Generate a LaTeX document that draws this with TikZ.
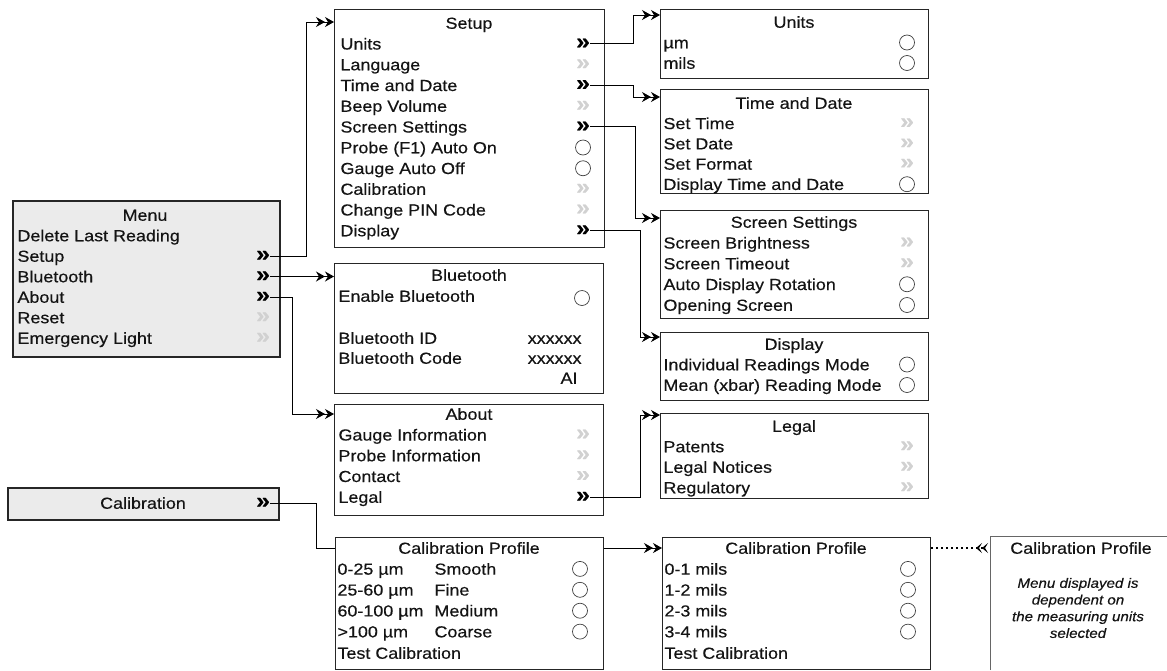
\documentclass[tikz,border=0pt]{standalone}
\usepackage{fontspec}
\setmainfont{Liberation Sans}[FakeStretch=1.12,FakeBold=0.4]
\usetikzlibrary{arrows.meta}

\begin{document}
\begin{tikzpicture}[x=1pt,y=-1pt,line width=1pt,
 font=\fontsize{16}{19}\selectfont,text=black!92,
 panel/.style={draw=black!85,line width=1.3pt,anchor=north west,inner sep=0pt},
 heavy/.style={panel,line width=2.2pt,fill=black!8},
 title/.style={inner sep=0pt,text height=11.5pt,text depth=0pt},
 row/.style={title,anchor=west},
 on/.style={inner sep=0pt,font=\fontsize{22}{24}\selectfont\bfseries,text=black,node contents={»}},
 off/.style={on,text=black!18},
 radio/.style={circle,draw=black!75,line width=.7pt,minimum size=15pt,inner sep=0pt,node contents={}},
 none/.style={inner sep=0pt,node contents={}},
 link/.style={-{Stealth[length=9pt,width=10pt,inset=3pt]Stealth[length=9pt,width=10pt,inset=3pt]}}]
 \useasboundingbox (0,0) rectangle (1167,670);
 % main menu
 \node[heavy,minimum width=267,minimum height=156] (menu) at (12,200) {};
 \node[title] (menu-t) at (145,215) {Menu};
 \foreach \t/\m [count=\i] in {Delete Last Reading/none,Setup/on,Bluetooth/on,
  About/on,Reset/off,Emergency Light/off}{
  \node[row] (menu-\i) at (17,{215+20.5*\i}) {\t};
  \node (menu-m\i) at (263,{215+20.5*\i}) [\m];
 }
 % setup
 \node[panel,minimum width=270,minimum height=238] (setup) at (334,9) {};
 \node[title] (setup-t) at (469,23) {Setup};
 \foreach \t/\m [count=\i] in {Units/on,Language/off,Time and Date/on,Beep Volume/off,
  Screen Settings/on,Probe (F1) Auto On/radio,Gauge Auto Off/radio,Calibration/off,
  Change PIN Code/off,Display/on}{
  \node[row] (setup-\i) at (340,{23+20.75*\i}) {\t};
  \node (setup-m\i) at (583,{23+20.75*\i}) [\m];
 }
 % units
 \node[panel,minimum width=268,minimum height=69] (units) at (660,9) {};
 \node[title] (units-t) at (794,22) {Units};
 \foreach \t [count=\i] in {µm,mils}{
  \node[row] (units-\i) at (663,{22+20.5*\i}) {\t};
  \node (units-m\i) at (907,{22+20.5*\i}) [radio];
 }
 % time and date
 \node[panel,minimum width=268,minimum height=104] (time) at (660,89) {};
 \node[title] (time-t) at (794,103) {Time and Date};
 \foreach \t/\m [count=\i] in {Set Time/off,Set Date/off,Set Format/off,
  Display Time and Date/radio}{
  \node[row] (time-\i) at (663,{103+20.3*\i}) {\t};
  \node (time-m\i) at (907,{103+20.3*\i}) [\m];
 }
 % screen settings
 \node[panel,minimum width=268,minimum height=108] (screen) at (660,210) {};
 \node[title] (screen-t) at (794,222) {Screen Settings};
 \foreach \t/\m [count=\i] in {Screen Brightness/off,Screen Timeout/off,
  Auto Display Rotation/radio,Opening Screen/radio}{
  \node[row] (screen-\i) at (663,{222+20.75*\i}) {\t};
  \node (screen-m\i) at (907,{222+20.75*\i}) [\m];
 }
 % display
 \node[panel,minimum width=268,minimum height=68] (display) at (660,332) {};
 \node[title] (display-t) at (794,344) {Display};
 \foreach \t [count=\i] in {Individual Readings Mode,Mean (xbar) Reading Mode}{
  \node[row] (display-\i) at (663,{344+20.5*\i}) {\t};
  \node (display-m\i) at (907,{344+20.5*\i}) [radio];
 }
 % legal
 \node[panel,minimum width=268,minimum height=85] (legal) at (660,413) {};
 \node[title] (legal-t) at (794,426) {Legal};
 \foreach \t [count=\i] in {Patents,Legal Notices,Regulatory}{
  \node[row] (legal-\i) at (663,{426+20.5*\i}) {\t};
  \node (legal-m\i) at (907,{426+20.5*\i}) [off];
 }
 % bluetooth
 \node[panel,minimum width=269,minimum height=130] (blue) at (334,263) {};
 \node[title] (blue-t) at (469,275) {Bluetooth};
 \node[row] (blue-1) at (338,296) {Enable Bluetooth};
 \node (blue-m1) at (582,298) [radio];
 \node[row] (blue-2) at (338,338) {Bluetooth ID};
 \node[row,anchor=east] (blue-v2) at (582,338) {xxxxxx};
 \node[row] (blue-3) at (338,358) {Bluetooth Code};
 \node[row,anchor=east] (blue-v3) at (582,358) {xxxxxx};
 \node[row,anchor=east] (blue-v4) at (578,378) {AI};
 % about
 \node[panel,minimum width=269,minimum height=111] (about) at (334,404) {};
 \node[title] (about-t) at (469,414) {About};
 \foreach \t/\m [count=\i] in {Gauge Information/off,Probe Information/off,
  Contact/off,Legal/on}{
  \node[row] (about-\i) at (338,{414+20.75*\i}) {\t};
  \node (about-m\i) at (583,{414+20.75*\i}) [\m];
 }
 % calibration
 \node[heavy,minimum width=271,minimum height=32] (calbar) at (7,487) {};
 \node[title] (calbar-t) at (143,503) {Calibration};
 \node (calbar-m) at (263,503) [on];
 \node[panel,minimum width=268,minimum height=132] (prof1) at (335,537) {};
 \node[title] (prof1-t) at (469,548) {Calibration Profile};
 \foreach \a/\b [count=\i] in {0-25 µm/Smooth,25-60 µm/Fine,60-100 µm/Medium,
  >100 µm/Coarse}{
  \node[row] (prof1-\i) at (337,{548+20.9*\i}) {\a};
  \node[row] (prof1-b\i) at (434,{548+20.9*\i}) {\b};
  \node (prof1-m\i) at (580,{548+20.9*\i}) [radio];
 }
 \node[row] (prof1-5) at (337,653) {Test Calibration};
 \node[panel,minimum width=268,minimum height=132] (prof2) at (662,537) {};
 \node[title] (prof2-t) at (796,548) {Calibration Profile};
 \foreach \a [count=\i] in {0-1 mils,1-2 mils,2-3 mils,3-4 mils}{
  \node[row] (prof2-\i) at (664,{548+20.9*\i}) {\a};
  \node (prof2-m\i) at (908,{548+20.9*\i}) [radio];
 }
 \node[row] (prof2-5) at (664,653) {Test Calibration};
 % units dependent menu
 \draw[black!60,line width=.8pt] (990,670)--(990,536)--(1167,536);
 \node[title] (dep-t) at (1081,548) {Calibration Profile};
 \node[align=center,inner sep=0pt,font=\fontsize{13.5}{16.7}\selectfont\itshape]
  (dep-note) at (1078,608) {Menu displayed is\\dependent on\\the measuring units\\selected};
 \coordinate (dep-in) at (988,548);
 % connectors
 \draw[link] (menu-m2.east) -- ++(36,0) |- ([yshift=-13pt]setup.north west);
 \draw[link] (menu-m3.east) -- (menu-m3.east -| blue.west);
 \draw[link] (menu-m4.east) -- ++(22,0) |- ([yshift=-10pt]about.north west);
 \draw[link] (setup-m1.east) -- ++(43,0) |- ([yshift=-6pt]units.north west);
 \draw[link] (setup-m3.east) -- ++(43,0) |- ([yshift=-8pt]time.north west);
 \draw[link] (setup-m5.east) -- ++(45,0) |- ([yshift=-8pt]screen.north west);
 \draw[link] (setup-m10.east) -- ++(50,0) |- ([yshift=-5pt]display.north west);
 \draw[link] (about-m4.east) -- ++(50,0) |- ([yshift=-2pt]legal.north west);
 \draw (calbar-m.east) -- ++(46,0) |- (prof1.west |- prof1-t);
 \draw[link] (prof1.east |- prof1-t) -- (prof2.west |- prof1-t);
 \draw[dash pattern=on 2pt off 3pt,line width=1.2pt,
  -{Stealth[reversed,length=6pt,width=10pt,inset=3pt]Stealth[reversed,length=6pt,width=10pt,inset=3pt]}]
  (prof2.east |- prof2-t) -- (dep-in);
\end{tikzpicture}
\end{document}
